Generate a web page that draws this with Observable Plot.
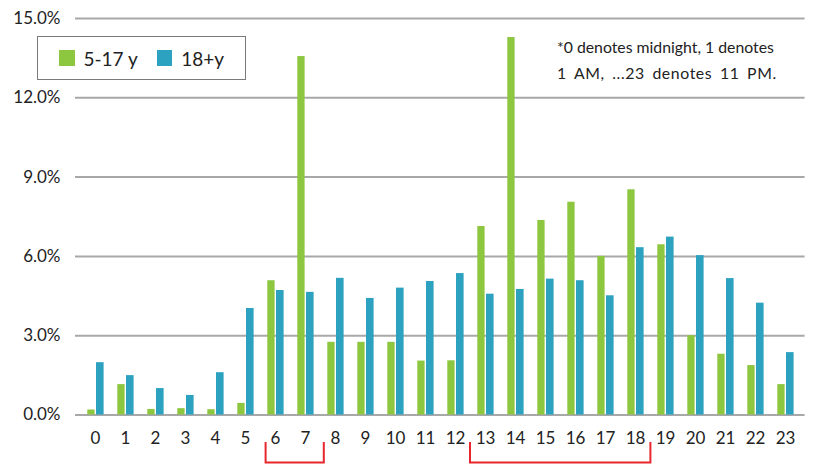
<!DOCTYPE html>
<html>
<head>
<meta charset="utf-8">
<script src="https://cdn.jsdelivr.net/npm/d3@7"></script>
<script src="https://cdn.jsdelivr.net/npm/@observablehq/plot@0.6"></script>
<style>
  html, body { margin: 0; padding: 0; background: #fff; }
  #wrap { position: relative; width: 825px; height: 464px; font-family: Lato, "Noto Sans", sans-serif; }
  #legend { position: absolute; left: 37px; top: 36px; width: 209px; height: 44px; box-sizing: border-box;
            border: 1.5px solid #7a7a7a; background: #fff; display: flex; align-items: center; font-size: 19px; color: #222; }
  .sw { display: inline-block; width: 15.5px; height: 15.5px; margin-right: 9px; }
  .item { display: flex; align-items: center; }
  #note { position: absolute; left: 557px; top: 34px; font-size: 15.8px; line-height: 26px; color: #222; white-space: nowrap; }
  #note .l2 { letter-spacing: 0.6px; word-spacing: 3px; }
</style>
</head>
<body>
<div id="wrap">
  <div id="chart"></div>
  <div id="legend"></div>
  <div id="note"></div>
</div>
<script>
const hours = [0,1,2,3,4,5,6,7,8,9,10,11,12,13,14,15,16,17,18,19,20,21,22,23];
const series = ["5-17 y", "18+y"];
const kids   = [0.19,1.15,0.21,0.24,0.20,0.44,5.08,13.56,2.75,2.75,2.75,2.04,2.05,7.13,14.28,7.36,8.05,6.00,8.52,6.44,3.00,2.30,1.87,1.15];
const adults = [1.98,1.49,1.00,0.74,1.60,4.03,4.71,4.64,5.17,4.41,4.80,5.05,5.35,4.57,4.75,5.14,5.08,4.51,6.33,6.73,6.03,5.16,4.23,2.36];
const yTicks = [0,3,6,9,12,15];
const brackets = [{from: 6, to: 7}, {from: 13, to: 18}];
const noteLines = ["*0 denotes midnight, 1 denotes", "1 AM, ...23 denotes 11 PM."];

const colors = ["#8dc63f", "#2ca1c0"];
const data = hours.map((h, i) => ({hour: h, kids: kids[i], adults: adults[i]}));

const chart = Plot.plot({
  width: 825,
  height: 464,
  marginLeft: 75,
  marginRight: 20.4,
  marginTop: 18,
  marginBottom: 49.5,
  style: {fontFamily: "Lato, 'Noto Sans', sans-serif", fontSize: "17px", color: "#222", background: "transparent"},
  x: {type: "band", domain: hours, padding: 0, label: null, tickSize: 0, tickPadding: 17},
  y: {domain: [0, 15], ticks: yTicks, tickFormat: d => d.toFixed(1) + "%", label: null, tickSize: 0, tickPadding: 15},
  marks: [
    Plot.gridY(yTicks, {stroke: "#a8a8a8", strokeOpacity: 1, strokeWidth: 2}),
    Plot.barY(data, {x: "hour", y: "kids", fill: colors[0], insetLeft: 7.3, insetRight: 15.4}),
    Plot.barY(data, {x: "hour", y: "adults", fill: colors[1], insetLeft: 16, insetRight: 6.4})
  ]
});
document.getElementById("chart").appendChild(chart);

// brackets under x labels, positioned through the x scale
const xs = chart.scale("x");
const bw = xs.bandwidth;
const svg = d3.select(chart);
const offs = [[5.6, 3.8], [0, 0.4]];
brackets.forEach((b, i) => {
  const x1 = xs.apply(b.from) + offs[i][0];
  const x2 = xs.apply(b.to) + bw + offs[i][1];
  svg.append("path")
    .attr("d", `M${x1},442 V462.5 H${x2} V442`)
    .attr("fill", "none")
    .attr("stroke", "#e8262d")
    .attr("stroke-width", 2);
});

// legend
const lg = d3.select("#legend");
series.forEach((s, i) => {
  const it = lg.append("div").attr("class", "item").style("margin-left", i === 0 ? "21px" : "19px");
  it.append("span").attr("class", "sw").style("background", colors[i]);
  it.append("span").text(s);
});

// note
const nt = d3.select("#note");
noteLines.forEach((t, i) => nt.append("div").attr("class", "l" + (i + 1)).text(t));
</script>
</body>
</html>
